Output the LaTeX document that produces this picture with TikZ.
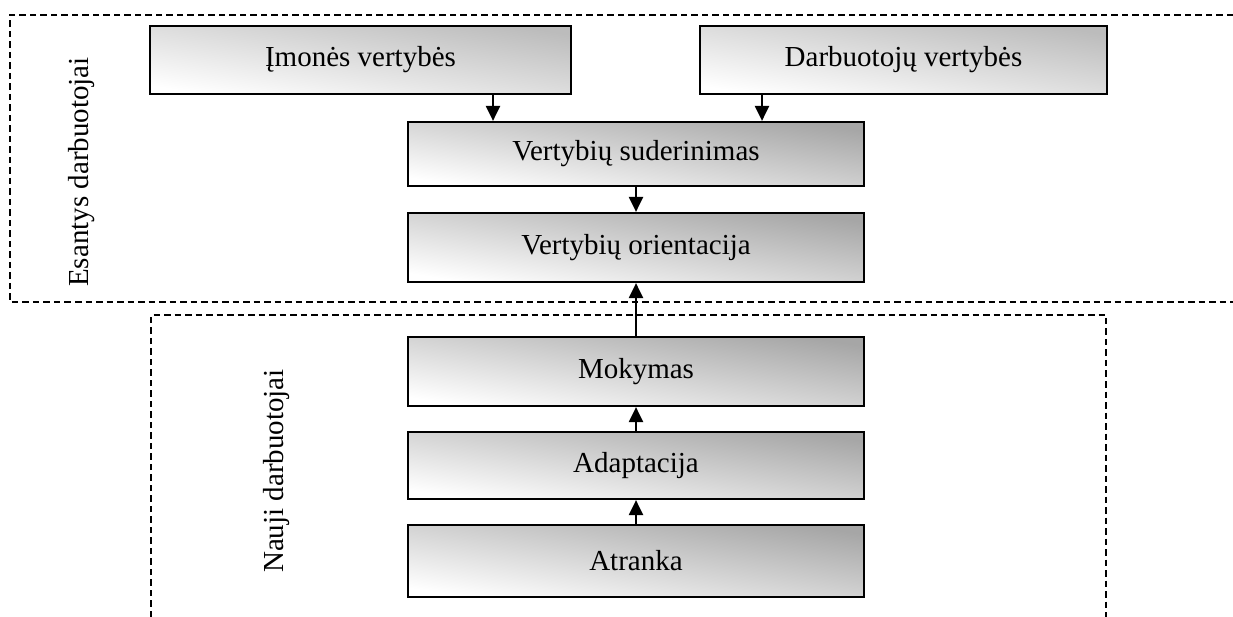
\documentclass[tikz,border=0pt]{standalone}
\usepackage{fontspec}
\setmainfont{Liberation Serif}
\usetikzlibrary{arrows.meta}
\definecolor{boxdark}{HTML}{A6A6A6}
\definecolor{boxlight}{HTML}{BCBCBC}
\tikzset{
  stagebox/.style={draw=black, line width=2.2pt, top color=boxdark, bottom color=white,
    shading angle=-9, inner sep=0pt, font=\fontsize{29}{34}\selectfont},
  valuebox/.style={stagebox, top color=boxlight, bottom color=white, shading angle=-9},
  flow/.style={line width=2.2pt, -{Triangle[length=15pt,width=14pt]}},
  grouping/.style={line width=2pt, dash pattern=on 6.5pt off 4pt},
  grouplabel/.style={rotate=90, font=\fontsize{29}{34}\selectfont}
}
\begin{document}
\begin{tikzpicture}[x=1pt, y=-1pt]
\useasboundingbox (0,0) rectangle (1233,617);

% group frames
\draw[grouping] (1233,15) -- (10,15) -- (10,302) -- (1233,302);
\draw[grouping] (151,617) -- (151,315) -- (1106,315) -- (1106,617);

\node[grouplabel] (existing) at (82,172) {Esantys darbuotojai};
\node[grouplabel] (newcomers) at (277,471) {Nauji darbuotojai};

% stages
\node[valuebox, minimum width=421pt, minimum height=68pt] (imon) at (360.5,60) {Įmonės vertybės};
\node[valuebox, minimum width=407pt, minimum height=68pt] (darb) at (903.5,60) {Darbuotojų vertybės};
\node[stagebox, minimum width=456pt, minimum height=64pt] (sud) at (636,154) {Vertybių suderinimas};
\node[stagebox, minimum width=456pt, minimum height=69pt] (ori) at (636,247.5) {Vertybių orientacija};
\node[stagebox, minimum width=456pt, minimum height=69pt] (mok) at (636,371.5) {Mokymas};
\node[stagebox, minimum width=456pt, minimum height=67pt] (adap) at (636,465.5) {Adaptacija};
\node[stagebox, minimum width=456pt, minimum height=72pt] (atr) at (636,561) {Atranka};

% connectors
\coordinate (xa) at (493,0);
\coordinate (xb) at (762,0);
\draw[flow] (imon.south -| xa) -- (sud.north -| xa);
\draw[flow] (darb.south -| xb) -- (sud.north -| xb);
\draw[flow] (sud) -- (ori);
\draw[flow] (mok) -- (ori);
\draw[flow] (adap) -- (mok);
\draw[flow] (atr) -- (adap);
\end{tikzpicture}
\end{document}
